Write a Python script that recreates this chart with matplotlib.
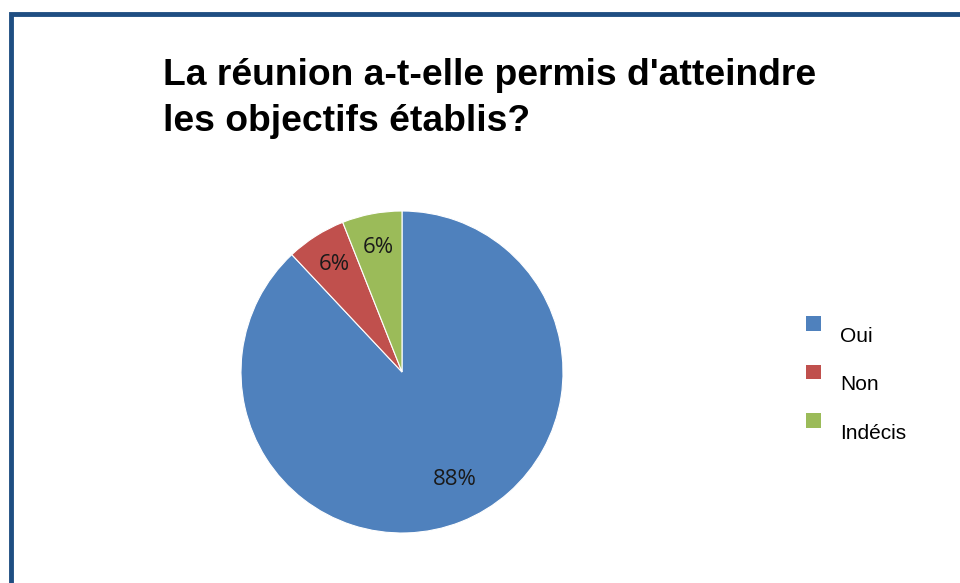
import matplotlib.pyplot as plt
from matplotlib.patches import Rectangle

# data
categories = ["Oui", "Non", "Indécis"]
values = [88, 6, 6]
colors = ["#4F81BD", "#C0504D", "#9BBB59"]

fig = plt.figure(figsize=(9.6, 5.83), dpi=100)
W, H = 960, 583

# dark blue frame (right and bottom run off the picture)
fig.patches.append(Rectangle((11 / W, -0.05), 1.1, (583 - 13.5) / H + 0.05,
                             transform=fig.transFigure, fill=False,
                             edgecolor="#1F4E82", linewidth=3.5))

# title
fig.text(163 / W, 1 - 58 / H, "La réunion a-t-elle permis d'atteindre\nles objectifs établis?",
         ha="left", va="top", fontsize=26.8, fontweight="bold",
         family="Liberation Sans", linespacing=1.39)

# pie, centre ~(402,372), radius ~161 px
r = 161
ax = fig.add_axes([(402 - r) / W, 1 - (372 + r) / H, 2 * r / W, 2 * r / H])
wedges, texts, autotexts = ax.pie(values, colors=colors, startangle=90, counterclock=False,
                                  autopct="%d%%", pctdistance=0.79, radius=1,
                                  wedgeprops=dict(edgecolor="white", linewidth=0.8),
                                  textprops=dict(fontsize=16, color="#1a1a1a", family="Open Sans"))
# Excel puts the big label a bit off the wedge middle
autotexts[0].set_position((0.33, -0.67))
ax.set_xlim(-1, 1)
ax.set_ylim(-1, 1)
ax.set_aspect("equal")
ax.axis("off")

# legend drawn by hand: Excel sets the text a little lower than the square
sq = 14.5
for i, (cat, col) in enumerate(zip(categories, colors)):
    yc = 323.5 + 48.5 * i
    fig.patches.append(Rectangle((806 / W, 1 - (yc + sq / 2) / H), sq / W, sq / H,
                                 transform=fig.transFigure, facecolor=col, edgecolor="none"))
    fig.text(840 / W, 1 - (yc + 18.5) / H, cat, ha="left", va="baseline",
             fontsize=15, family="Liberation Sans")

plt.savefig("out.png", dpi=100)
